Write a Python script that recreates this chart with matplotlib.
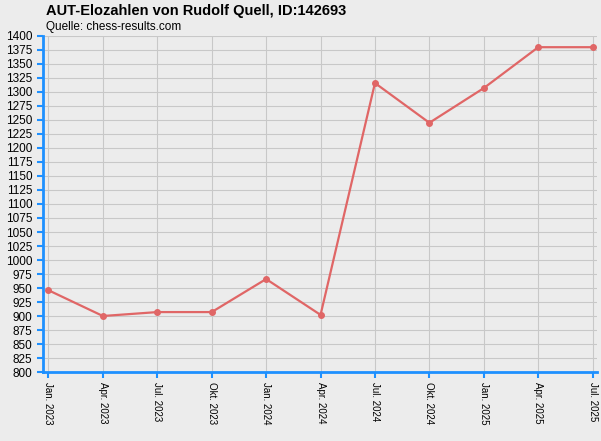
import matplotlib
matplotlib.use("Agg")
import matplotlib.pyplot as plt
plt.rcParams['font.family'] = ['Liberation Sans', 'DejaVu Sans']

labels = ["Jan. 2023","Apr. 2023","Jul. 2023","Okt. 2023","Jan. 2024","Apr. 2024",
          "Jul. 2024","Okt. 2024","Jan. 2025","Apr. 2025","Jul. 2025"]
elo = [946, 900, 907, 907, 966, 902, 1316, 1245, 1307, 1380, 1380]

fig = plt.figure(figsize=(6.01, 4.41), dpi=100, facecolor="#ececec")
ax = fig.add_axes([43/601, 1-372/441, (597-43)/601, (372-36)/441])
ax.set_facecolor("#ececec")
x = list(range(len(elo)))
ax.plot(x, elo, color="#e06666", lw=1.6, marker="o", ms=4, zorder=3)
ax.set_xlim(-0.1, len(elo)-1+0.08)
ax.set_ylim(800, 1400)
ax.set_yticks(range(800, 1401, 25))
ax.set_yticklabels([str(v) for v in range(800, 1401, 25)], fontsize=8.5)
ax.set_xticks(x)
ax.set_xticklabels(labels, rotation=-90, fontsize=7)
ax.grid(True, color="#c8c8c8", lw=0.8)
for s in ["top", "right"]:
    ax.spines[s].set_visible(False)
for s in ["left", "bottom"]:
    ax.spines[s].set_color("#1e90ff")
    ax.spines[s].set_linewidth(2)
ax.tick_params(axis="both", colors="#1e90ff", labelcolor="black", length=4, width=1.5)
fig.text(46/601, 1-11/441, "AUT-Elozahlen von Rudolf Quell, ID:142693", fontsize=10.5,
         fontweight="bold", va="center")
fig.text(46/601, 1-27/441, "Quelle: chess-results.com", fontsize=8.5, va="center")
fig.savefig("out.png", dpi=100, facecolor=fig.get_facecolor())
